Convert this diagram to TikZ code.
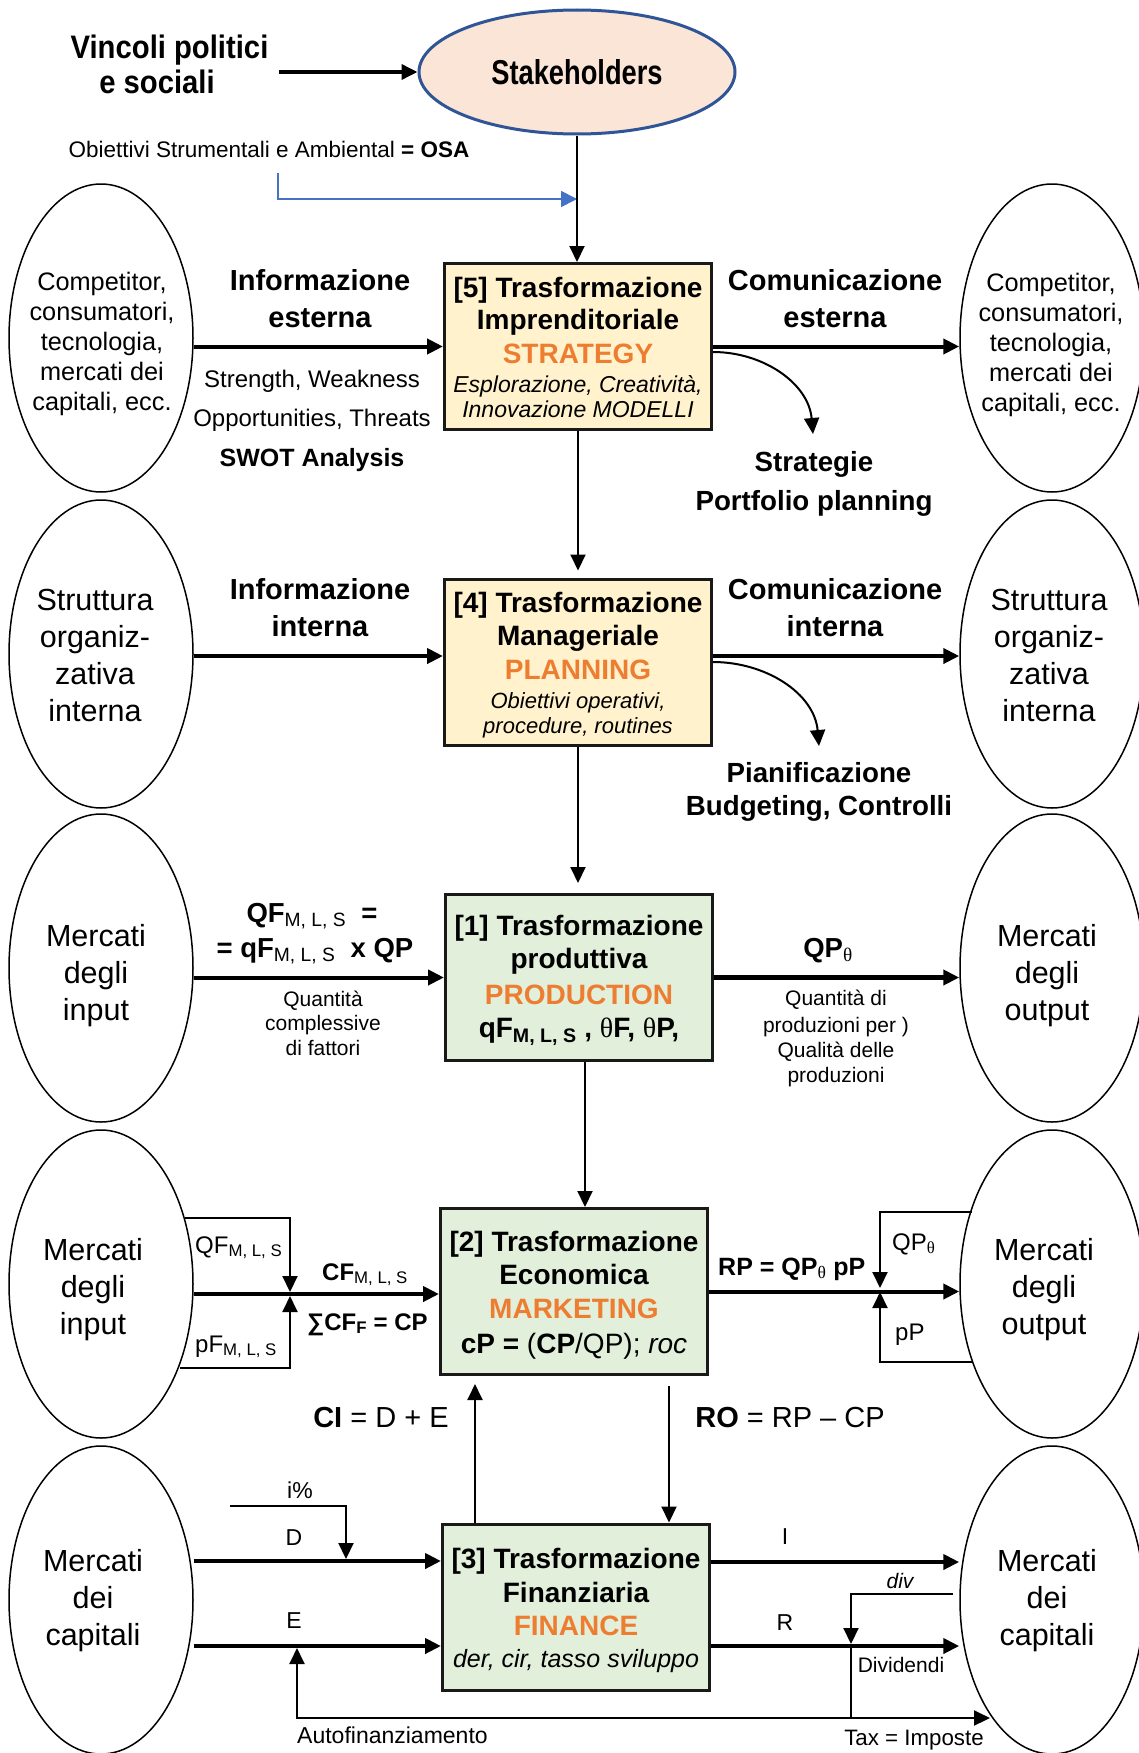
\documentclass[tikz,border=0pt]{standalone}
\usepackage{fontspec}
\setmainfont{Liberation Sans}
\newfontfamily\grk{Liberation Serif}
\newfontfamily\condsans{Liberation Sans}[FakeStretch=0.79]
\newfontfamily\narrowsans{Liberation Sans}[FakeStretch=0.9]
\usetikzlibrary{arrows.meta,shapes.geometric}
\definecolor{boxyellow}{HTML}{FFF2CC}
\definecolor{boxgreen}{HTML}{E2EFDA}
\definecolor{orng}{HTML}{ED7D31}
\definecolor{peach}{HTML}{FBE5D6}
\definecolor{stkblue}{HTML}{2F5597}
\definecolor{osablue}{HTML}{4472C4}
\newcommand\fsz[2]{\fontsize{#1}{#2}\selectfont}
\newcommand\thet{{\grk\mdseries θ}}
\newcommand\sbs[1]{\textsubscript{#1}}

\tikzset{
  market/.style={draw, ellipse, line width=1.5pt, minimum width=184pt, minimum height=308pt, inner sep=0pt},
  trbox/.style={draw=black!90, line width=3pt, inner sep=0pt, minimum width=267pt, minimum height=166pt},
  ybox/.style={trbox, fill=boxyellow},
  gbox/.style={trbox, fill=boxgreen},
  headtip/.style={-{Triangle[length=16pt,width=15pt]}},
  heavy/.style={headtip, line width=4pt},
  slim/.style={headtip, line width=2pt},
  bareline/.style={line width=2pt},
  lbl/.style={inner sep=0pt, anchor=base},
  mtxt/.style={inner sep=0pt, align=center},
  boxtitle/.style={lbl, font=\fsz{28}{32}\bfseries},
  boxorange/.style={lbl, font=\fsz{28}{32}\bfseries, text=orng},
  boxital/.style={lbl, font=\fsz{23}{26}\itshape},
  flowlbl/.style={mtxt, font=\fsz{29}{37}\bfseries},
  outlbl/.style={lbl, font=\fsz{27.7}{32}\bfseries},
  small/.style={lbl, font=\fsz{21}{25}},
  mid/.style={lbl, font=\fsz{23}{27}},
}

\begin{document}
\begin{tikzpicture}[x=1pt, y=-1pt]
\useasboundingbox (0,0) rectangle (1139,1753);

% ---------- market ellipses (left and right columns) ----------
\foreach \n/\yy in {1/338,2/654,3/968,4/1284,5/1600}{
  \node[market] (L\n) at (101,\yy) {};
  \node[market] (R\n) at (1052,\yy) {};
}
\node[mtxt, font=\fsz{25.3}{30}] (L1t) at (102,344) {Competitor,\\consumatori,\\tecnologia,\\mercati dei\\capitali, ecc.};
\node[mtxt, font=\fsz{25.3}{30}] (R1t) at (1051,345) {Competitor,\\consumatori,\\tecnologia,\\mercati dei\\capitali, ecc.};
\node[mtxt, font=\fsz{30.5}{37}] (L2t) at (95,655) {Struttura\\organiz-\\zativa\\interna};
\node[mtxt, font=\fsz{30.5}{37}] (R2t) at (1049,655) {Struttura\\organiz-\\zativa\\interna};
\node[mtxt, font=\fsz{30.5}{37}] (L3t) at (96,976) {Mercati\\degli\\input};
\node[mtxt, font=\fsz{30.5}{37}] (R3t) at (1047,976) {Mercati\\degli\\output};
\node[mtxt, font=\fsz{30.5}{37}] (L4t) at (93,1290) {Mercati\\degli\\input};
\node[mtxt, font=\fsz{30.5}{37}] (R4t) at (1044,1290) {Mercati\\degli\\output};
\node[mtxt, font=\fsz{30.5}{37}] (L5t) at (93,1601) {Mercati\\dei\\capitali};
\node[mtxt, font=\fsz{30.5}{37}] (R5t) at (1047,1601) {Mercati\\dei\\capitali};

% ---------- stakeholders ----------
\node[ellipse, draw=stkblue, line width=3pt, fill=peach, minimum width=316pt, minimum height=124pt, inner sep=0pt, font=\condsans\fsz{34.5}{38}\bfseries] (stk) at (577,72) {Stakeholders};
\node[lbl, font=\narrowsans\fsz{32.5}{36}\bfseries] (vinc1) at (169.5,59) {Vincoli politici};
\node[lbl, font=\narrowsans\fsz{32.5}{36}\bfseries] (vinc2) at (157,93) {e sociali};
\draw[headtip, line width=3.5pt] ([xshift=10.5pt]vinc1.east |- stk.west) -- (stk.west);
\node[inner sep=0pt, font=\fsz{22.5}{26}] (osa) at (269,149) {Obiettivi Strumentali e Ambiental \textbf{= OSA}};
\coordinate (osaS) at (278,173);
\coordinate (osaJ) at (577,199);

% ---------- transformation boxes ----------
\node[ybox] (b5) at (578,346.5) {};
\node[ybox] (b4) at (578,662) {};
\node[gbox] (b1) at (579,977.5) {};
\node[gbox] (b2) at (574,1291.5) {};
\node[gbox] (b3) at (576,1607) {};

\node[boxtitle] (b5l1) at (578,297) {[5] Trasformazione};
\node[boxtitle] (b5l2) at (578,329) {Imprenditoriale};
\node[boxorange] (b5l3) at (578,363) {STRATEGY};
\node[boxital] (b5l4) at (578,392) {Esplorazione, Creatività,};
\node[boxital] (b5l5) at (578,417) {Innovazione MODELLI};

\node[boxtitle] (b4l1) at (578,612) {[4] Trasformazione};
\node[boxtitle] (b4l2) at (578,645) {Manageriale};
\node[boxorange] (b4l3) at (578,679) {PLANNING};
\node[boxital, font=\fsz{22}{26}\itshape] (b4l4) at (578,708) {Obiettivi operativi,};
\node[boxital, font=\fsz{22}{26}\itshape] (b4l5) at (578,733) {procedure, routines};

\node[boxtitle] (b1l1) at (579,935) {[1] Trasformazione};
\node[boxtitle] (b1l2) at (579,968) {produttiva};
\node[boxorange] (b1l3) at (579,1004) {PRODUCTION};
\node[boxtitle] (b1l4) at (579,1037) {qF\sbs{M, L, S} , \thet F, \thet P,};

\node[boxtitle] (b2l1) at (574,1251) {[2] Trasformazione};
\node[boxtitle] (b2l2) at (574,1284) {Economica};
\node[boxorange] (b2l3) at (574,1318) {MARKETING};
\node[boxtitle, font=\fsz{28}{32}] (b2l4) at (574,1353) {\textbf{cP =} (\textbf{CP}/QP); \textit{roc}};

\node[boxtitle] (b3l1) at (576,1568) {[3] Trasformazione};
\node[boxtitle] (b3l2) at (576,1602) {Finanziaria};
\node[boxorange] (b3l3) at (576,1635) {FINANCE};
\node[boxital, font=\fsz{25}{28}\itshape] (b3l4) at (576,1667) {der, cir, tasso sviluppo};

% ---------- vertical flow between levels ----------
\draw[osablue, line width=1.8pt, -{Triangle[length=16pt,width=16pt]}] (osaS) |- (osaJ);
\draw[slim] (stk.south) -- (stk.south |- b5.north);
\draw[slim, shorten >=7pt] (b5.south) -- (b5.south |- b4.north);
\draw[slim, shorten >=10pt] (b4.south) -- (b4.south |- b1.north);
\draw[slim] ([xshift=6pt]b1.south) -- ([xshift=6pt]b1.south |- b2.north);
\draw[slim] ([xshift=95pt,yshift=-10pt]b2.south) -- ([xshift=95pt]b2.south |- b3.north);
\draw[slim] ([xshift=-101pt]b3.north) -- ([xshift=-101pt,yshift=-8pt]b3.north |- b2.south);

% ---------- level 5 : strategy ----------
\draw[heavy] (b5.west -| L1.east) -- (b5.west);
\draw[heavy] (b5.east) -- (b5.east -| R1.west);
\node[flowlbl] (infE) at (320,299) {Informazione\\esterna};
\node[flowlbl] (comE) at (835,299) {Comunicazione\\esterna};
\node[lbl, font=\fsz{24}{27}] (sw1) at (312,387) {Strength, Weakness};
\node[lbl, font=\fsz{24}{27}] (sw2) at (312,426) {Opportunities, Threats};
\node[lbl, font=\fsz{25}{28}\bfseries] (sw3) at (312,466) {SWOT Analysis};
\coordinate (c5) at (813,434);
\draw[slim] ([yshift=-5.5pt]b5.east) to[out=0,in=95] (c5);
\node[outlbl] (str1) at (814,471) {Strategie};
\node[outlbl] (str2) at (814,510) {Portfolio planning};

% ---------- level 4 : planning ----------
\draw[heavy] ([yshift=6pt]b4.west -| L2.east) -- ([yshift=6pt]b4.west);
\draw[heavy] ([yshift=6pt]b4.east) -- ([yshift=6pt]b4.east -| R2.west);
\node[flowlbl] (infI) at (320,608) {Informazione\\interna};
\node[flowlbl] (comI) at (835,608) {Comunicazione\\interna};
\coordinate (c4) at (819,746);
\draw[slim] (b4.east) to[out=0,in=95] (c4);
\node[outlbl] (pia1) at (819,782) {Pianificazione};
\node[outlbl] (pia2) at (819,815) {Budgeting, Controlli};

% ---------- level 1 : production ----------
\draw[heavy] (b1.west -| L3.east) -- (b1.west);
\draw[heavy, line width=5.5pt] (b1.east) -- (b1.east -| R3.west);
\node[lbl, font=\fsz{27.5}{32}\bfseries] (qf1) at (312,922) {QF\sbs{\mdseries M, L, S}\ \ =};
\node[lbl, font=\fsz{27.5}{32}\bfseries] (qf2) at (315,957) {= qF\sbs{\mdseries M, L, S}\ \ x QP};
\node[small] (qc1) at (323,1006) {Quantità};
\node[small] (qc2) at (323,1030) {complessive};
\node[small] (qc3) at (323,1055) {di fattori};
\node[lbl, font=\fsz{27.5}{32}\bfseries] (qpt) at (828,957) {QP\sbs{\thet}};
\node[small] (qd1) at (836,1005) {Quantità di};
\node[small] (qd2) at (836,1032) {produzioni per )};
\node[small] (qd3) at (836,1057) {Qualità delle};
\node[small] (qd4) at (836,1082) {produzioni};

% ---------- level 2 : marketing ----------
\draw[heavy] ([yshift=-2.5pt]b2.west -| L4.east) -- ([yshift=-2.5pt]b2.west);
\draw[heavy] (b2.east) -- (b2.east -| R4.west);
\coordinate (jL) at (290,1294);
\coordinate (qfA) at (185,1218);
\coordinate (pfA) at (180,1368);
\draw[slim, shorten >=2pt] (qfA) -| (jL);
\draw[slim, shorten >=2pt] (pfA) -| (jL);
\coordinate (jR) at (880,1290);
\coordinate (qpA) at (972,1212);
\coordinate (ppA) at (972,1362);
\draw[slim, shorten >=2pt] (qpA) -| (jR);
\draw[slim, shorten >=2pt] (ppA) -| (jR);
\node[lbl, anchor=base west, font=\fsz{24}{28}] (lqf) at (195,1253) {QF\sbs{M, L, S}};
\node[lbl, anchor=base west, font=\fsz{24}{28}] (lpf) at (195,1352) {pF\sbs{M, L, S}};
\node[lbl, anchor=base west, font=\fsz{24}{28}] (lcf) at (322,1280) {\textbf{CF}\sbs{M, L, S}};
\node[lbl, anchor=base west, font=\fsz{24}{28}\bfseries] (lsum) at (307,1330) {∑CF\sbs{F} = CP};
\node[lbl, anchor=base west, font=\fsz{25}{28}\bfseries] (lrp) at (718,1275) {RP = QP\sbs{\thet} pP};
\node[lbl, anchor=base west, font=\fsz{24}{28}] (lqp) at (892,1250) {QP\sbs{\thet}};
\node[lbl, anchor=base west, font=\fsz{24}{28}] (lpp) at (895,1340) {pP};
\node[lbl, font=\fsz{29}{32}] (lci) at (381,1427) {\textbf{CI} = D + E};
\node[lbl, font=\fsz{29}{32}] (lro) at (790,1427) {\textbf{RO} = RP – CP};

% ---------- level 3 : finance ----------
\draw[heavy] ([yshift=46pt]b3.west -| L5.east) -- ([yshift=46pt]b3.west);
\draw[heavy] ([yshift=-39pt]b3.west -| L5.east) -- ([yshift=-39pt]b3.west);
\draw[heavy] ([yshift=45pt]b3.east) -- ([yshift=45pt]b3.east -| R5.west);
\draw[heavy] ([yshift=-39pt]b3.east) -- ([yshift=-39pt]b3.east -| R5.west);
\coordinate (iA) at (230,1506);
\coordinate (jD) at (346,1561);
\draw[slim, shorten >=2pt] (iA) -| (jD);
\coordinate (divA) at (953,1594);
\coordinate (jR5) at (851,1646);
\coordinate (jB) at (851,1718);
\coordinate (jE) at (297,1646);
\coordinate (taxE) at (990,1718);
\draw[slim, shorten >=2pt] (divA) -| (jR5);
\draw[bareline] (jR5) -- (jB);
\draw[slim, shorten >=2pt] (jB) -| (jE);
\draw[slim] (jB) -- (taxE);
\node[mid] (lip) at (300,1498) {i\%};
\node[mid] (ld) at (294,1545) {D};
\node[mid] (le) at (294,1628) {E};
\node[mid] (li) at (785,1544) {I};
\node[mid] (lr) at (785,1630) {R};
\node[small, font=\fsz{21}{25}\itshape] (ldiv) at (900,1588) {div};
\node[small] (ldvd) at (901,1672) {Dividendi};
\node[lbl, anchor=base west, font=\fsz{23}{27}] (laut) at (297,1743) {Autofinanziamento};
\node[lbl, font=\fsz{22.3}{27}] (ltax) at (914,1745) {Tax = Imposte};
\end{tikzpicture}
\end{document}
